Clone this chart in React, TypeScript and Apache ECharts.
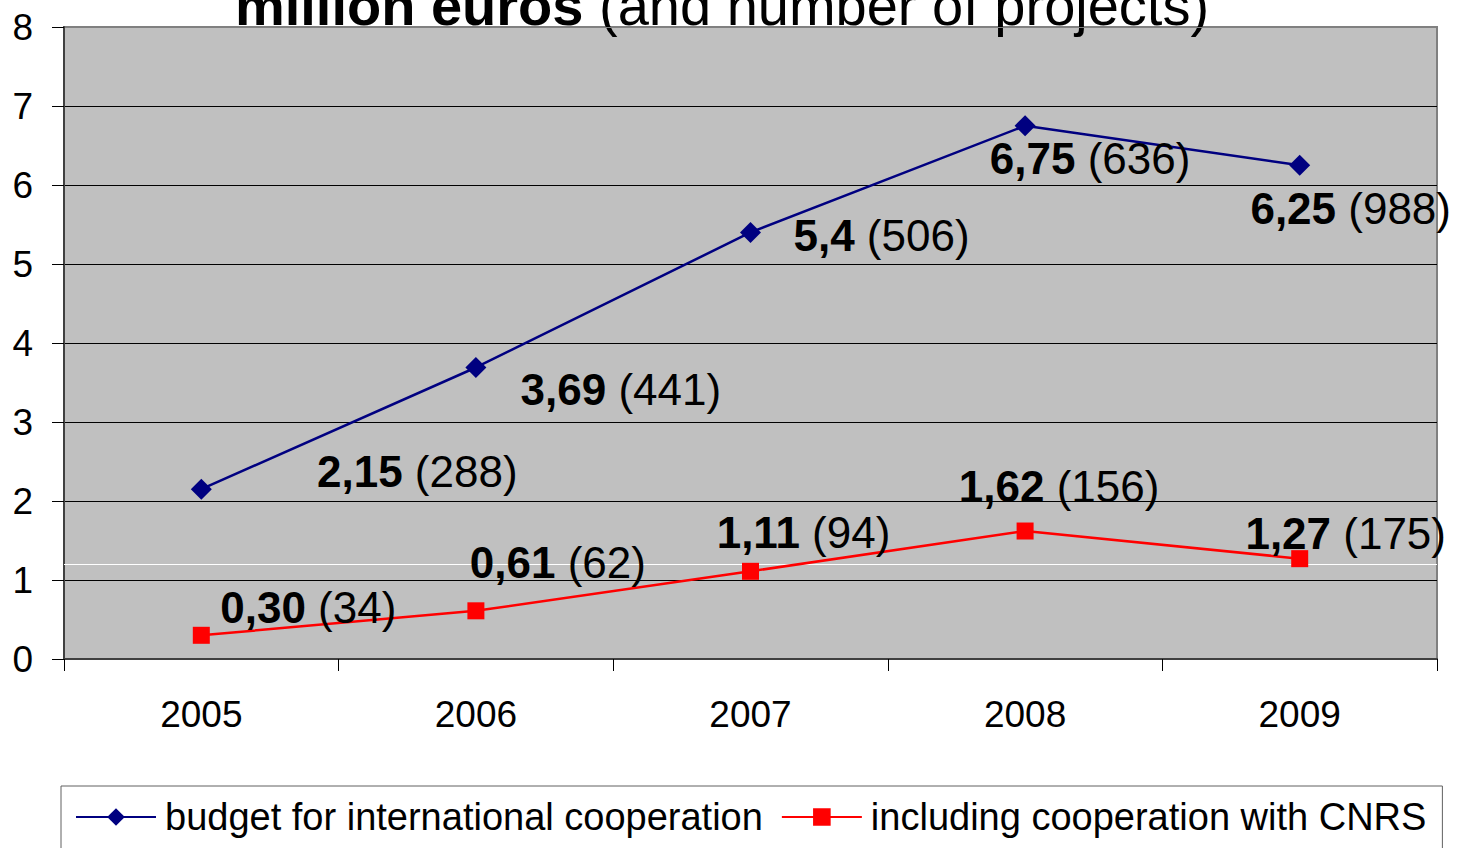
import React, { useEffect, useRef } from "react";
import * as echarts from "echarts";

const years = ["2005", "2006", "2007", "2008", "2009"];
const budget = [2.15, 3.69, 5.4, 6.75, 6.25];
const budgetText = ["2,15", "3,69", "5,4", "6,75", "6,25"];
const budgetProjects = [288, 441, 506, 636, 988];
const cnrs = [0.3, 0.61, 1.11, 1.62, 1.27];
const cnrsText = ["0,30", "0,61", "1,11", "1,62", "1,27"];
const cnrsProjects = [34, 62, 94, 156, 175];
const whiteRefLine = 1.2;

// label placement relative to each marker (pixels)
const budgetOffsets = [
  [216, -18],
  [145, 22],
  [131, 3],
  [65, 33],
  [51, 43],
];
const cnrsOffsets = [
  [107, -28],
  [82, -48],
  [53, -39],
  [34, -45],
  [46, -25],
];

const FONT = 'Arial, "Liberation Sans", sans-serif';

export default function App() {
  const ref = useRef<HTMLDivElement>(null);

  useEffect(() => {
    if (!ref.current) return;
    const chart = echarts.init(ref.current, undefined, { renderer: "svg" });

    const rich = {
      b: { fontSize: 44, fontWeight: "bold", color: "#000", fontFamily: FONT },
      n: { fontSize: 44, fontWeight: "normal", color: "#000", fontFamily: FONT },
    };

    const option: any = {
      animation: false,
      backgroundColor: "#fff",
      textStyle: { fontFamily: FONT },
      graphic: [
        {
          type: "text",
          x: 722,
          y: 5,
          style: {
            text: "{b|million euros}{n| (and number of projects)}",
            align: "center",
            verticalAlign: "middle",
            rich: {
              b: { fontSize: 56, fontWeight: "bold", fill: "#000", fontFamily: FONT },
              n: { fontSize: 56, fontWeight: "normal", fill: "#000", fontFamily: FONT },
            },
          },
        },
      ],
      grid: {
        left: 64,
        right: 23,
        top: 27,
        bottom: 189,
        show: true,
        backgroundColor: "#C0C0C0",
        borderColor: "#808080",
        borderWidth: 2,
        containLabel: false,
        outerBoundsMode: "none",
      },
      legend: {
        left: 61,
        top: 786,
        padding: [12, 16, 20, 14],
        itemGap: 18,
        itemWidth: 80,
        itemHeight: 22,
        borderColor: "#606060",
        borderWidth: 1,
        textStyle: {
          fontSize: 38,
          color: "#000",
          fontFamily: FONT,
          padding: [0, 0, 0, 4],
        },
        data: ["budget for international cooperation", "including cooperation with CNRS"],
      },
      xAxis: {
        type: "category",
        data: years,
        boundaryGap: true,
        axisLine: { show: true, lineStyle: { color: "#404040", width: 2 } },
        axisTick: { show: true, length: 12, inside: false, lineStyle: { color: "#000", width: 1 } },
        axisLabel: { fontSize: 37, color: "#000", margin: 37, fontFamily: FONT },
        splitLine: { show: false },
      },
      yAxis: {
        type: "value",
        min: 0,
        max: 8,
        interval: 1,
        axisLine: { show: true, lineStyle: { color: "#404040", width: 2 } },
        axisTick: { show: true, length: 12, inside: false, lineStyle: { color: "#000", width: 1 } },
        axisLabel: { fontSize: 37, color: "#000", margin: 31, fontFamily: FONT },
        splitLine: {
          show: true,
          lineStyle: {
            color: ["#000", "#000", "#000", "#000", "#000", "#000", "#000", "#000", "#808080"],
            width: 1,
          },
        },
      },
      series: [
        {
          name: "budget for international cooperation",
          type: "line",
          data: budget.map((v, i) => ({ value: v, label: { offset: budgetOffsets[i] } })),
          symbol: "diamond",
          symbolSize: 21,
          itemStyle: { color: "#000080" },
          lineStyle: { color: "#000080", width: 2.5 },
          label: {
            show: true,
            position: "inside",
            align: "center",
            verticalAlign: "middle",
            formatter: (p: any) =>
              `{b|${budgetText[p.dataIndex]}}{n| (${budgetProjects[p.dataIndex]})}`,
            rich,
          },
          z: 3,
        },
        {
          name: "including cooperation with CNRS",
          type: "line",
          data: cnrs.map((v, i) => ({ value: v, label: { offset: cnrsOffsets[i] } })),
          symbol: "rect",
          symbolSize: 17,
          itemStyle: { color: "#FF0000" },
          lineStyle: { color: "#FF0000", width: 2.5 },
          label: {
            show: true,
            position: "inside",
            align: "center",
            verticalAlign: "middle",
            formatter: (p: any) =>
              `{b|${cnrsText[p.dataIndex]}}{n| (${cnrsProjects[p.dataIndex]})}`,
            rich,
          },
          markLine: {
            silent: true,
            symbol: "none",
            label: { show: false },
            lineStyle: { color: "#ffffff", width: 1, type: "solid" },
            data: [{ yAxis: whiteRefLine }],
            z: 1,
          },
          z: 3,
        },
      ],
    };

    chart.setOption(option);
    return () => chart.dispose();
  }, []);

  return (
    <div
      ref={ref}
      style={{ position: "fixed", left: 0, top: 0, width: 1460, height: 848 }}
    />
  );
}
